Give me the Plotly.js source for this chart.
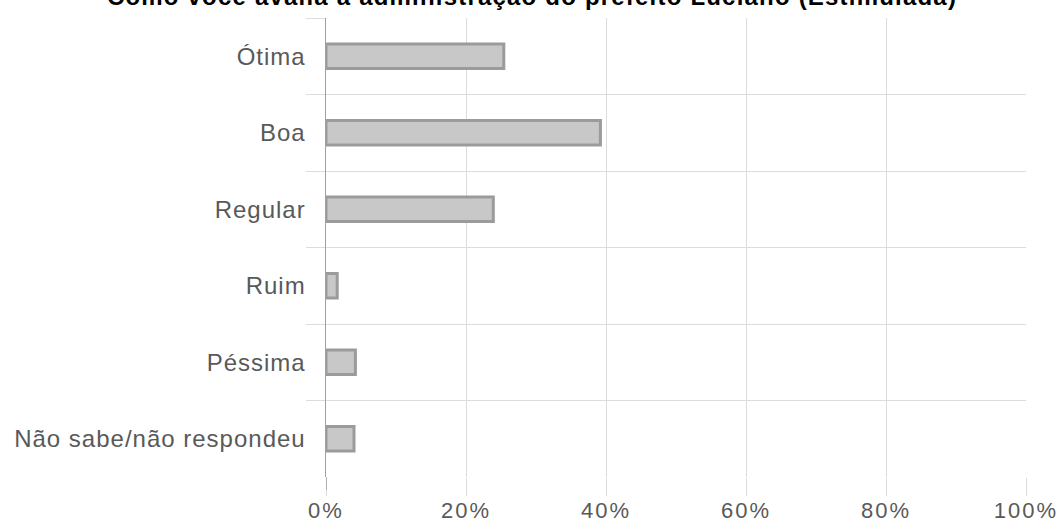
<!DOCTYPE html>
<html>
<head>
<meta charset="utf-8">
<script src="https://cdn.plot.ly/plotly-3.0.1.min.js"></script>
<style>
  html, body { margin: 0; padding: 0; background: #fff; }
  #chart { width: 1064px; height: 523px; }
  .ytick text { letter-spacing: 1px; }
  .xtick text { letter-spacing: 2px; }
  .gtitle { letter-spacing: 1.2px; }
</style>
</head>
<body>
<div id="chart"></div>
<script>
const categories = ["Ótima", "Boa", "Regular", "Ruim", "Péssima", "Não sabe/não respondeu"];
const values = [25.4, 39.2, 23.9, 1.6, 4.2, 4.0];
const tickValues = [0, 20, 40, 60, 80, 100];
const tickLabels = ["0%", "20%", "40%", "60%", "80%", "100%"];
const titleText = "Como você avalia a administração do prefeito Luciano (Estimulada)";

const trace = {
  type: "bar",
  orientation: "h",
  x: values,
  y: categories,
  marker: { color: "#c8c8c8", line: { color: "#9b9b9b", width: 3 } },
  hoverinfo: "x+y"
};

const layout = {
  width: 1064,
  height: 523,
  margin: { l: 326, r: 38, t: 18, b: 46 },
  paper_bgcolor: "#ffffff",
  plot_bgcolor: "#ffffff",
  font: { family: "Liberation Sans, Arial, sans-serif", color: "#595959" },
  showlegend: false,
  bargap: 0.677,
  title: {
    text: titleText,
    font: { family: "Liberation Sans, Arial, sans-serif", size: 24, color: "#000000", weight: "bold" },
    xref: "container", x: 0.5, xanchor: "center",
    yref: "container", y: 1 - 5 / 523, yanchor: "bottom"
  },
  xaxis: {
    range: [0, 100],
    tickvals: tickValues,
    ticktext: tickLabels,
    showgrid: true,
    gridcolor: "#dcdcdc",
    gridwidth: 1,
    zeroline: false,
    showline: false,
    ticks: "outside",
    ticklen: 18,
    tickcolor: "#dcdcdc",
    ticklabelstandoff: -4,
    tickfont: { size: 22, color: "#595959" },
    fixedrange: true
  },
  yaxis: {
    type: "category",
    categoryorder: "array",
    categoryarray: categories,
    autorange: "reversed",
    tickson: "boundaries",
    showgrid: true,
    gridcolor: "#dcdcdc",
    gridwidth: 1,
    ticks: "outside",
    ticklen: 19,
    tickcolor: "#dcdcdc",
    ticklabelstandoff: 14,
    showline: true,
    linecolor: "#a0a0a0",
    linewidth: 1.5,
    zeroline: false,
    tickfont: { size: 24, color: "#595959" },
    fixedrange: true
  },
  shapes: [{
    type: "line", layer: "above",
    xref: "x", x0: tickValues[0], x1: tickValues[0],
    yref: "paper", y0: 0, y1: -13 / 459,
    line: { color: "#a0a0a0", width: 1.5 }
  }]
};

Plotly.newPlot("chart", [trace], layout, { displayModeBar: false, staticPlot: true });
</script>
</body>
</html>
